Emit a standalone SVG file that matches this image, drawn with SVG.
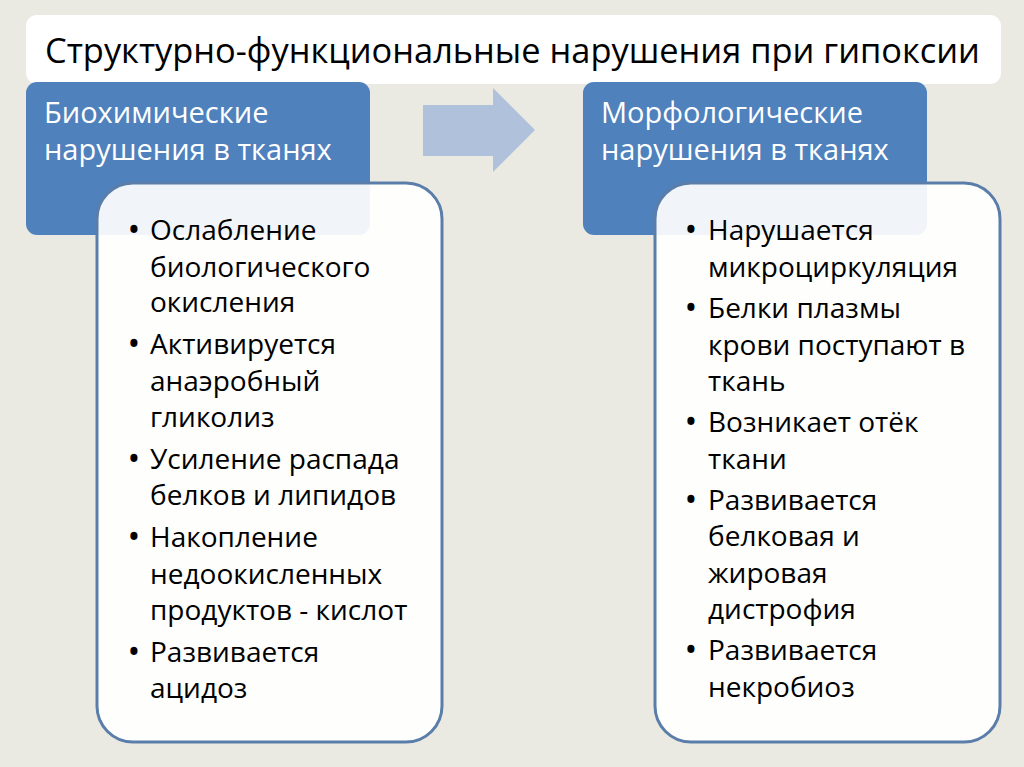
<svg xmlns="http://www.w3.org/2000/svg" width="1024" height="767" viewBox="0 0 1024 767">
<style>
.t{font-family:"Open Sans","Noto Sans",sans-serif;}
.title{font-size:34px;fill:#000;}
.hd{font-size:29px;fill:#fff;}
.bd{font-size:28px;fill:#000;}
.b{font-size:34px;text-anchor:middle;}
.hdr{fill:#4f81bd;}
.body{fill:#fff;fill-opacity:0.92;stroke:#5a7ea9;stroke-width:3;}
</style>
<rect x="0" y="0" width="1024" height="767" fill="#ebeae2"/>
<g id="title">
<rect x="26" y="15" width="975" height="69" rx="11" fill="#fff"/>
<text class="t title" x="45" y="63" textLength="935" lengthAdjust="spacingAndGlyphs">Структурно-функциональные нарушения при гипоксии</text>
</g>
<g id="connectors">
<polygon points="423,105 493,105 493,88 535,130 493,172 493,156 423,156" fill="#b0c1db"/>
</g>
<g id="left-header">
<rect class="hdr" x="26" y="82" width="344" height="153" rx="11"/>
<text class="t hd" x="44" y="123">Биохимические</text>
<text class="t hd" x="44" y="160">нарушения в тканях</text>
</g>
<g id="left-body">
<rect class="body" x="97" y="183" width="345" height="559" rx="36"/>
<g class="t bd">
<text class="b" x="134" y="242">•</text><text x="150" y="240">Ослабление</text>
<text x="150" y="277">биологического</text>
<text x="150" y="312">окисления</text>
<text class="b" x="134" y="356">•</text><text x="150" y="354">Активируется</text>
<text x="150" y="391">анаэробный</text>
<text x="150" y="427">гликолиз</text>
<text class="b" x="134" y="471">•</text><text x="150" y="469">Усиление распада</text>
<text x="150" y="505">белков и липидов</text>
<text class="b" x="134" y="549">•</text><text x="150" y="547">Накопление</text>
<text x="150" y="584">недоокисленных</text>
<text x="150" y="620">продуктов - кислот</text>
<text class="b" x="134" y="664">•</text><text x="150" y="662">Развивается</text>
<text x="150" y="698">ацидоз</text>
</g>
</g>
<g id="right-header">
<rect class="hdr" x="583" y="82" width="344" height="153" rx="11"/>
<text class="t hd" x="601" y="123">Морфологические</text>
<text class="t hd" x="601" y="160">нарушения в тканях</text>
</g>
<g id="right-body">
<rect class="body" x="655" y="183" width="345" height="559" rx="36"/>
<g class="t bd">
<text class="b" x="691" y="242">•</text><text x="708" y="240">Нарушается</text>
<text x="708" y="277">микроциркуляция</text>
<text class="b" x="691" y="320">•</text><text x="708" y="318">Белки плазмы</text>
<text x="708" y="355">крови поступают в</text>
<text x="708" y="391">ткань</text>
<text class="b" x="691" y="434">•</text><text x="708" y="432">Возникает отёк</text>
<text x="708" y="469">ткани</text>
<text class="b" x="691" y="512">•</text><text x="708" y="510">Развивается</text>
<text x="708" y="546">белковая и</text>
<text x="708" y="583">жировая</text>
<text x="708" y="619">дистрофия</text>
<text class="b" x="691" y="662">•</text><text x="708" y="660">Развивается</text>
<text x="708" y="697">некробиоз</text>
</g>
</g>
</svg>
